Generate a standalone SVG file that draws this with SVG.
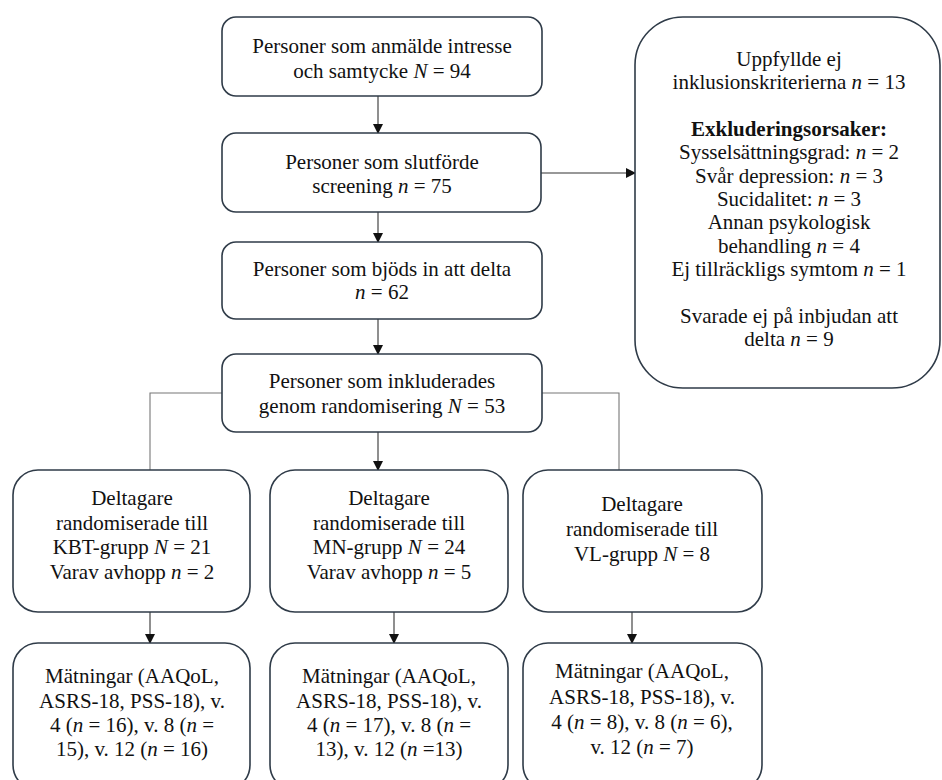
<svg xmlns="http://www.w3.org/2000/svg" width="942" height="780" viewBox="0 0 942 780">
<style>
.box{fill:#fff;stroke:#2f3b48;stroke-width:1.6}
.c{stroke:#333;stroke-width:1.1;fill:none}
.g{stroke:#777;stroke-width:1.1;fill:none}
</style>
<defs>
<marker id="ah" markerWidth="10" markerHeight="10" refX="9" refY="5" orient="auto" markerUnits="userSpaceOnUse">
<path d="M0,0 L10,5 L0,10 Z" fill="#111"/>
</marker>
</defs>
<rect width="942" height="780" fill="#fff"/>
<g id="connectors">
<line class="c" x1="378" y1="96" x2="378" y2="133" marker-end="url(#ah)"/>
<line class="c" x1="378" y1="212" x2="378" y2="242" marker-end="url(#ah)"/>
<line class="c" x1="378" y1="319" x2="378" y2="354" marker-end="url(#ah)"/>
<line class="c" x1="541" y1="173" x2="635" y2="173" marker-end="url(#ah)"/>
<polyline class="g" points="222,393 150,393 150,470"/>
<polyline class="g" points="542,393 619,393 619,470"/>
<line class="c" x1="378" y1="432" x2="378" y2="470" marker-end="url(#ah)"/>
<line class="c" x1="150" y1="612" x2="150" y2="643" marker-end="url(#ah)"/>
<line class="c" x1="394" y1="612" x2="394" y2="643" marker-end="url(#ah)"/>
<line class="c" x1="632" y1="612" x2="632" y2="643" marker-end="url(#ah)"/>
</g>
<g font-family="Liberation Serif" font-size="21" fill="#111" text-anchor="middle">
<g id="n1">
<rect class="box" x="222" y="17" width="320" height="79" rx="14"/>
<text x="382" y="53" font-family="Liberation Serif">Personer som anmälde intresse</text>
<text x="382" y="78" font-family="Liberation Serif">och samtycke <tspan font-style="italic">N</tspan> = 94</text>
</g>
<g id="n2">
<rect class="box" x="222" y="133" width="319" height="79" rx="14"/>
<text x="382" y="169" font-family="Liberation Serif">Personer som slutförde</text>
<text x="382" y="193" font-family="Liberation Serif">screening <tspan font-style="italic">n</tspan> = 75</text>
</g>
<g id="n3">
<rect class="box" x="222" y="242" width="320" height="77" rx="14"/>
<text x="382" y="276" font-family="Liberation Serif">Personer som bjöds in att delta</text>
<text x="382" y="299" font-family="Liberation Serif"><tspan font-style="italic">n</tspan> = 62</text>
</g>
<g id="n4">
<rect class="box" x="222" y="354" width="320" height="78" rx="14"/>
<text x="382" y="388" font-family="Liberation Serif">Personer som inkluderades</text>
<text x="382" y="413" font-family="Liberation Serif">genom randomisering <tspan font-style="italic">N</tspan> = 53</text>
</g>
<g id="excl">
<rect class="box" x="635" y="17" width="305" height="371" rx="48"/>
<text x="789" y="66" font-family="Liberation Serif">Uppfyllde ej</text>
<text x="789" y="89" font-family="Liberation Serif">inklusionskriterierna <tspan font-style="italic">n</tspan> = 13</text>
<text x="789" y="136" font-family="Liberation Serif" font-weight="bold">Exkluderingsorsaker:</text>
<text x="789" y="159" font-family="Liberation Serif">Sysselsättningsgrad: <tspan font-style="italic">n</tspan> = 2</text>
<text x="789" y="183" font-family="Liberation Serif">Svår depression: <tspan font-style="italic">n</tspan> = 3</text>
<text x="789" y="206" font-family="Liberation Serif">Sucidalitet: <tspan font-style="italic">n</tspan> = 3</text>
<text x="789" y="229" font-family="Liberation Serif">Annan psykologisk</text>
<text x="789" y="253" font-family="Liberation Serif">behandling <tspan font-style="italic">n</tspan> = 4</text>
<text x="789" y="276" font-family="Liberation Serif">Ej tillräckligs symtom <tspan font-style="italic">n</tspan> = 1</text>
<text x="789" y="323" font-family="Liberation Serif">Svarade ej på inbjudan att</text>
<text x="789" y="346" font-family="Liberation Serif">delta <tspan font-style="italic">n</tspan> = 9</text>
</g>
<g id="kbt">
<rect class="box" x="13" y="470" width="237" height="142" rx="25"/>
<text x="132" y="505" font-family="Liberation Serif">Deltagare</text>
<text x="132" y="530" font-family="Liberation Serif">randomiserade till</text>
<text x="132" y="554" font-family="Liberation Serif">KBT-grupp <tspan font-style="italic">N</tspan> = 21</text>
<text x="132" y="579" font-family="Liberation Serif">Varav avhopp <tspan font-style="italic">n</tspan> = 2</text>
</g>
<g id="mn">
<rect class="box" x="270" y="470" width="238" height="142" rx="25"/>
<text x="389" y="505" font-family="Liberation Serif">Deltagare</text>
<text x="389" y="530" font-family="Liberation Serif">randomiserade till</text>
<text x="389" y="554" font-family="Liberation Serif">MN-grupp <tspan font-style="italic">N</tspan> = 24</text>
<text x="389" y="579" font-family="Liberation Serif">Varav avhopp <tspan font-style="italic">n</tspan> = 5</text>
</g>
<g id="vl">
<rect class="box" x="523" y="470" width="239" height="142" rx="25"/>
<text x="642" y="511" font-family="Liberation Serif">Deltagare</text>
<text x="642" y="536" font-family="Liberation Serif">randomiserade till</text>
<text x="642" y="561" font-family="Liberation Serif">VL-grupp <tspan font-style="italic">N</tspan> = 8</text>
</g>
<g id="kbt-m">
<rect class="box" x="13" y="643" width="237" height="147" rx="25"/>
<text x="132" y="683" font-family="Liberation Serif">Mätningar (AAQoL,</text>
<text x="132" y="708" font-family="Liberation Serif">ASRS-18, PSS-18), v.</text>
<text x="132" y="732" font-family="Liberation Serif">4 (<tspan font-style="italic">n</tspan> = 16), v. 8 (<tspan font-style="italic">n</tspan> =</text>
<text x="132" y="756" font-family="Liberation Serif">15), v. 12 (<tspan font-style="italic">n</tspan> = 16)</text>
</g>
<g id="mn-m">
<rect class="box" x="270" y="643" width="238" height="147" rx="25"/>
<text x="389" y="683" font-family="Liberation Serif">Mätningar (AAQoL,</text>
<text x="389" y="708" font-family="Liberation Serif">ASRS-18, PSS-18), v.</text>
<text x="389" y="732" font-family="Liberation Serif">4 (<tspan font-style="italic">n</tspan> = 17), v. 8 (<tspan font-style="italic">n</tspan> =</text>
<text x="389" y="756" font-family="Liberation Serif">13), v. 12 (<tspan font-style="italic">n</tspan> =13)</text>
</g>
<g id="vl-m">
<rect class="box" x="523" y="643" width="239" height="147" rx="25"/>
<text x="642" y="678" font-family="Liberation Serif">Mätningar (AAQoL,</text>
<text x="642" y="704" font-family="Liberation Serif">ASRS-18, PSS-18), v.</text>
<text x="642" y="729" font-family="Liberation Serif">4 (<tspan font-style="italic">n</tspan> = 8), v. 8 (<tspan font-style="italic">n</tspan> = 6),</text>
<text x="642" y="754" font-family="Liberation Serif">v. 12 (<tspan font-style="italic">n</tspan> = 7)</text>
</g>
</g>
</svg>
